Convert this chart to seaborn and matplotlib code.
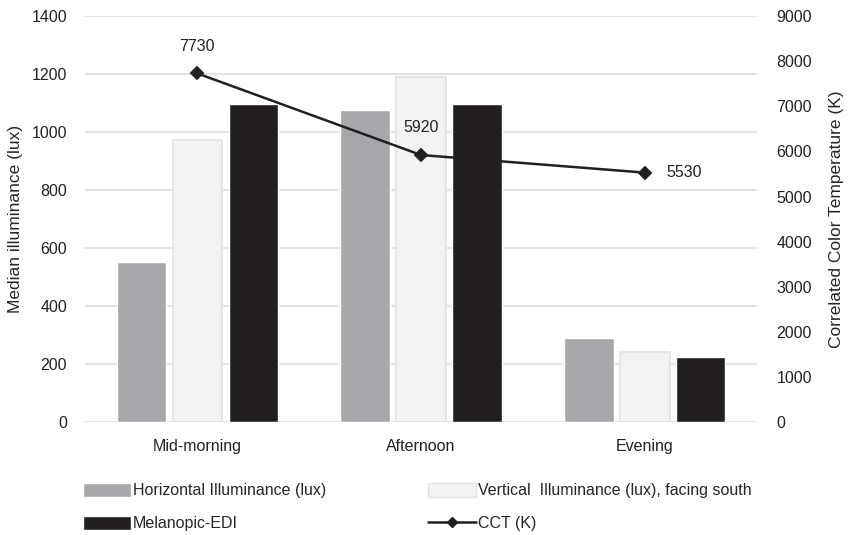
import seaborn as sns
import matplotlib.pyplot as plt
import pandas as pd
from matplotlib.patches import Patch
from matplotlib.lines import Line2D

periods = ['Mid-morning', 'Afternoon', 'Evening']
horizontal = [552, 1076, 290]
vertical = [972, 1190, 242]
melanopic = [1097, 1097, 223]
cct = [7730, 5920, 5530]

series_names = ['Horizontal Illuminance (lux)',
                'Vertical  Illuminance (lux), facing south',
                'Melanopic-EDI']

df = pd.DataFrame({
    'period': periods * 3,
    'value': horizontal + vertical + melanopic,
    'series': [series_names[0]] * 3 + [series_names[1]] * 3 + [series_names[2]] * 3,
})

sns.set_style('white')
plt.rcParams['font.family'] = ['Liberation Sans', 'DejaVu Sans']
plt.rcParams['font.size'] = 11.5

fig, ax = plt.subplots(figsize=(8.61, 5.35), dpi=100)
fig.subplots_adjust(left=0.099, right=0.879, top=0.970, bottom=0.211)

palette = {series_names[0]: '#a7a8ab', series_names[1]: '#f2f3f3', series_names[2]: '#231f20'}
sns.barplot(data=df, x='period', y='value', hue='series', palette=palette,
            width=0.75, gap=0.12, ax=ax, legend=False, saturation=1, zorder=3)
# light outline on the pale bars
for p in ax.patches[3:6]:
    p.set_edgecolor('#e2e3e3')
    p.set_linewidth(1.2)

ax.set_ylim(0, 1400)
ax.set_yticks(range(0, 1401, 200))
ax.yaxis.grid(True, color='#e3e3e3', linewidth=1.5, zorder=0)
ax.set_axisbelow(True)
ax.set_xlabel('')
ax.set_ylabel('Median illuminance (lux)', fontsize=12.5, labelpad=6)
for s in ax.spines.values():
    s.set_visible(False)
ax.tick_params(axis='y', length=0, labelsize=11.5, colors='#222222', pad=13)
ax.tick_params(axis='x', length=0, labelsize=11.5, colors='#222222', pad=12)

ax2 = ax.twinx()
sns.pointplot(x=periods, y=cct, ax=ax2, color='#231f20', markers='D',
              markersize=6, linewidth=1.8)
ax2.set_ylim(0, 9000)
ax2.set_yticks(range(0, 9001, 1000))
ax2.set_ylabel('Correlated Color Temperature (K)', fontsize=12.5, labelpad=12)
for s in ax2.spines.values():
    s.set_visible(False)
ax2.tick_params(axis='y', length=0, labelsize=11.5, colors='#222222', pad=14)
ax2.tick_params(axis='x', length=0, labelsize=11.5, colors='#222222', pad=12)
ax2.set_xlabel('')

offsets = [(0, 19), (0, 20), (28, 0)]
for i, (v, off) in enumerate(zip(cct, offsets)):
    ax2.annotate(str(v), (i, v), xytext=off, textcoords='offset points',
                 ha='center', va='center', fontsize=11.5, color='#222222')

handles = [Patch(facecolor='#a7a8ab'),
           Patch(facecolor='#231f20'),
           Patch(facecolor='#f2f3f3', edgecolor='#e2e3e3'),
           Line2D([0], [0], color='#231f20', lw=1.8, marker='D', markersize=5)]
labels = [series_names[0], series_names[2], series_names[1], 'CCT (K)']
fig.legend(handles, labels, loc='lower left', bbox_to_anchor=(0.08, -0.02),
           ncol=2, frameon=False, fontsize=11.5, handlelength=3.0,
           handleheight=1.0, handletextpad=0.1, columnspacing=6.4,
           labelspacing=1.1)

plt.savefig('out.png', dpi=100)
